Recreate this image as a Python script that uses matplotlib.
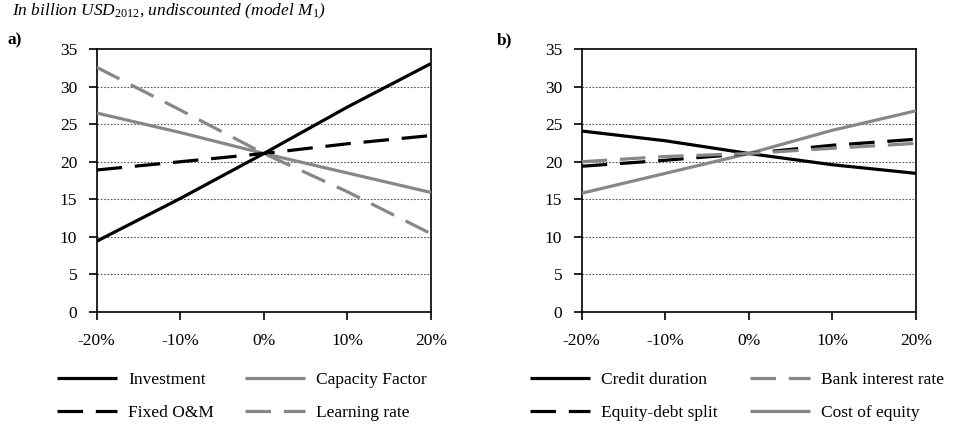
import matplotlib
matplotlib.use("Agg")
import matplotlib.pyplot as plt
from matplotlib.lines import Line2D

plt.rcParams["font.family"] = ["Liberation Serif", "DejaVu Serif"]
plt.rcParams["mathtext.fontset"] = "custom"
plt.rcParams["mathtext.rm"] = "Liberation Serif"
plt.rcParams["mathtext.it"] = "Liberation Serif:italic"

# %%
changes = ["-20%", "-10%", "0%", "10%", "20%"]

# panel a
investment = [9.4, 15.1, 21.1, 27.3, 33.1]
capacity_factor = [26.5, 23.9, 21.1, 18.5, 15.9]
fixed_om = [18.9, 20.0, 21.1, 22.4, 23.5]
learning_rate = [32.6, 26.9, 21.1, 16.0, 10.4]

# panel b
credit_duration = [24.1, 22.8, 21.1, 19.6, 18.45]
equity_debt_split = [19.4, 20.2, 21.1, 22.2, 23.0]
bank_interest_rate = [20.0, 20.7, 21.1, 21.8, 22.45]
cost_of_equity = [15.8, 18.45, 21.1, 24.2, 26.8]

BLACK = "#000000"
GREY = "#878787"
LW = 2.3
DASH = (8, 4)
FS = 12.5

# %%
fig = plt.figure(figsize=(9.57, 4.26), dpi=100)
ax_a = fig.add_axes([0.101, 0.2683, 0.3494, 0.616])
ax_b = fig.add_axes([0.6078, 0.2683, 0.3494, 0.616])

x = list(range(len(changes)))


def style_axis(ax):
    ax.set_xlim(0, len(changes) - 1)
    ax.set_ylim(0, 35)
    ax.set_yticks(range(0, 36, 5))
    ax.set_xticks(x)
    ax.set_xticklabels(changes)
    for y in range(5, 35, 5):
        ax.axhline(y, color="#555555", linestyle=(0, (1.5, 1.5)), linewidth=0.8, zorder=0)
    for s in ax.spines.values():
        s.set_linewidth(1.2)
        s.set_color("black")
    ax.tick_params(axis="both", direction="out", length=6, width=1.2, labelsize=FS)
    ax.tick_params(axis="x", pad=9)
    ax.tick_params(axis="y", pad=8)


def add_line(ax, vals, color, dashed):
    ls = (0, DASH) if dashed else "-"
    ax.plot(x, vals, color=color, linewidth=LW, linestyle=ls, solid_capstyle="butt",
            dash_capstyle="butt", zorder=3)


style_axis(ax_a)
add_line(ax_a, investment, BLACK, False)
add_line(ax_a, capacity_factor, GREY, False)
add_line(ax_a, fixed_om, BLACK, True)
add_line(ax_a, learning_rate, GREY, True)

style_axis(ax_b)
add_line(ax_b, credit_duration, BLACK, False)
add_line(ax_b, cost_of_equity, GREY, False)
add_line(ax_b, equity_debt_split, BLACK, True)
add_line(ax_b, bank_interest_rate, GREY, True)


def handle(color, dashed):
    ls = (0, DASH) if dashed else "-"
    return Line2D([], [], color=color, linewidth=LW, linestyle=ls, dash_capstyle="butt",
                  solid_capstyle="butt")


def legend_col(handles, labels, xpx):
    fig.legend(handles, labels, loc="upper left",
               bbox_to_anchor=(xpx / 957, 1 - 372 / 426), frameon=False, fontsize=FS,
               handlelength=3.45, handletextpad=0.63, labelspacing=0.95, borderpad=0,
               borderaxespad=0)


legend_col([handle(BLACK, False), handle(BLACK, True)], ["Investment", "Fixed O&M"], 57)
legend_col([handle(GREY, False), handle(GREY, True)], ["Capacity Factor", "Learning rate"], 245)
legend_col([handle(BLACK, False), handle(BLACK, True)], ["Credit duration", "Equity-debt split"], 530)
legend_col([handle(GREY, True), handle(GREY, False)], ["Bank interest rate", "Cost of equity"], 750)

fig.text(12 / 957, 1 - 11 / 426,
         r"In billion USD$_{\mathit{2012}}$, undiscounted (model M$_{\mathit{1}}$)",
         style="italic", fontsize=FS, va="center", ha="left")
fig.text(8 / 957, 1 - 40 / 426, "a)", fontweight="bold", fontsize=FS, va="center", ha="left")
fig.text(497 / 957, 1 - 40 / 426, "b)", fontweight="bold", fontsize=FS, va="center", ha="left")

fig.savefig("out.png", dpi=100)
